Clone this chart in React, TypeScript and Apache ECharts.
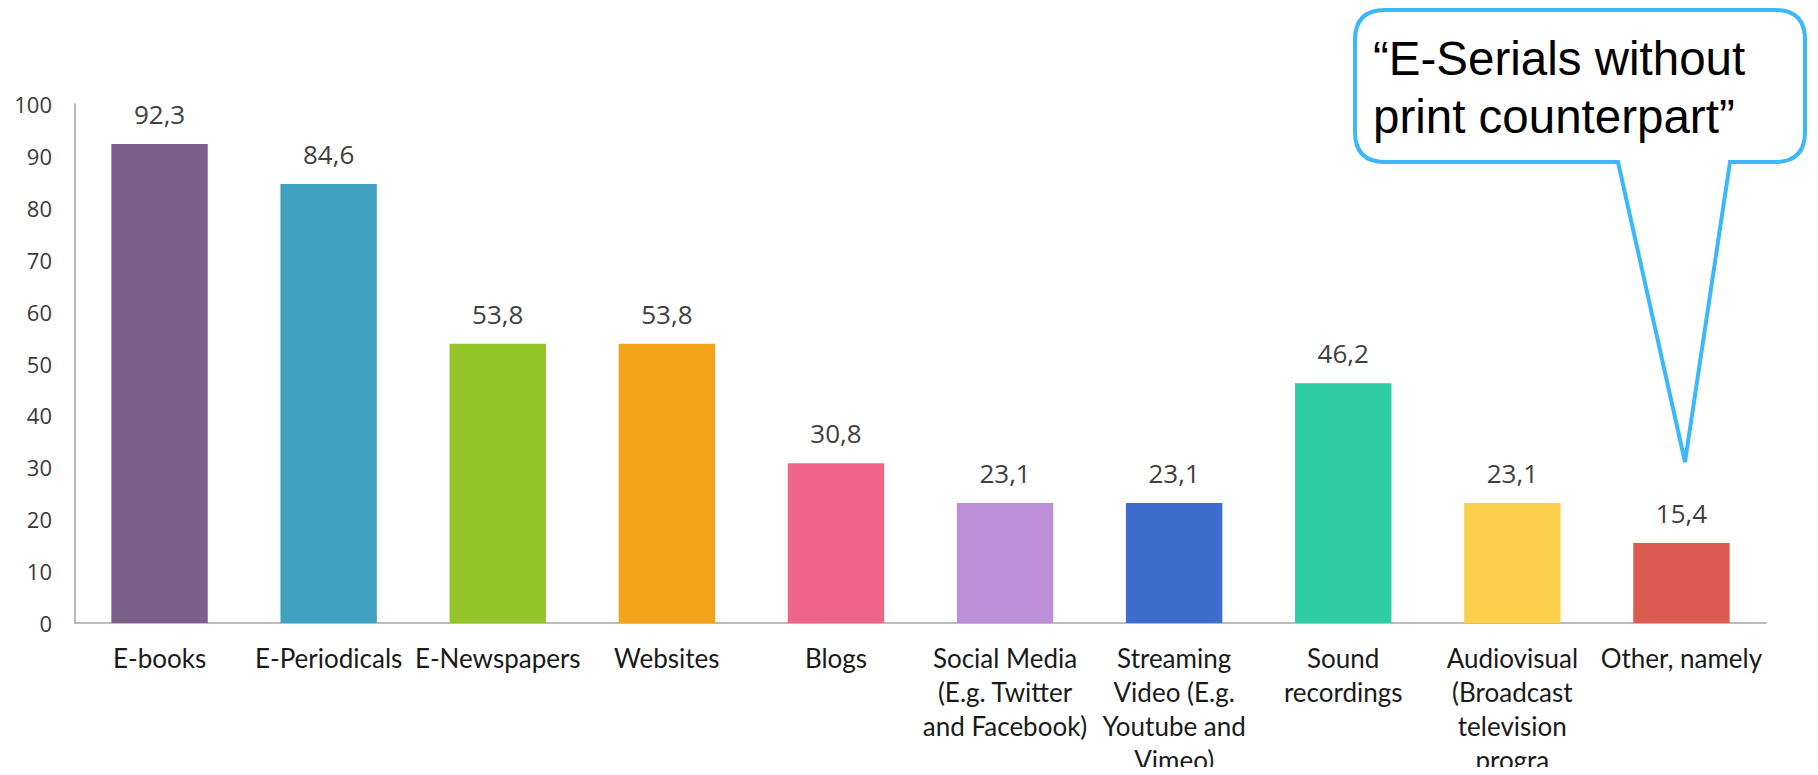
import React, { useEffect, useRef } from "react";
import * as echarts from "echarts";

const categories = [
  "E-books",
  "E-Periodicals",
  "E-Newspapers",
  "Websites",
  "Blogs",
  "Social Media\n(E.g. Twitter\nand Facebook)",
  "Streaming\nVideo (E.g.\nYoutube and\nVimeo)",
  "Sound\nrecordings",
  "Audiovisual\n(Broadcast\ntelevision\nprogra",
  "Other, namely",
];
const values = [92.3, 84.6, 53.8, 53.8, 30.8, 23.1, 23.1, 46.2, 23.1, 15.4];
const barColors = [
  "#7B5F8D",
  "#40A1C1",
  "#93C529",
  "#F4A41A",
  "#EF6587",
  "#BE8FD9",
  "#3D6DCC",
  "#2ECDA5",
  "#FCD04B",
  "#DC5B51",
];
const calloutLines = ["\u201CE-Serials without", "print counterpart\u201D"];

const calloutPath =
  "M1385 10 H1775 Q1805 10 1805 40 V132 Q1805 162 1775 162 H1730 L1685 462 L1618 162 H1385 Q1355 162 1355 132 V40 Q1355 10 1385 10 Z";

echarts.graphic.registerShape("callout", echarts.graphic.extendPath(calloutPath, {}));

export default function App() {
  const ref = useRef<HTMLDivElement>(null);
  useEffect(() => {
    if (!ref.current) return;
    const chart = echarts.init(ref.current, null, { renderer: "svg" });
    chart.setOption({
      animation: false,
      backgroundColor: "#ffffff",
      grid: {
        left: 75,
        right: 52,
        top: 104,
        bottom: 152,
        containLabel: false,
        outerBoundsMode: "none",
      },
      xAxis: {
        type: "category",
        data: categories,
        axisLine: { show: true, lineStyle: { color: "#A6A6A6", width: 1.5 } },
        axisTick: { show: false },
        axisLabel: {
          interval: 0,
          margin: 18,
          color: "#1a1a1a",
          fontFamily: "Lato, Open Sans, sans-serif",
          fontSize: 26,
          lineHeight: 34,
        },
      },
      yAxis: {
        type: "value",
        min: 0,
        max: 100,
        interval: 10,
        splitLine: { show: false },
        axisLine: { show: true, lineStyle: { color: "#A6A6A6", width: 1.5 } },
        axisTick: { show: false },
        axisLabel: {
          margin: 23,
          color: "#3a3a3a",
          fontFamily: "Open Sans, sans-serif",
          fontSize: 22,
        },
      },
      series: [
        {
          type: "bar",
          data: values.map((v, i) => ({ value: v, itemStyle: { color: barColors[i] } })),
          barCategoryGap: "43%",
          label: {
            show: true,
            position: "top",
            distance: 17,
            color: "#404040",
            fontFamily: "Open Sans, sans-serif",
            fontSize: 26,
            formatter: (p: any) => String(p.value).replace(".", ","),
          },
        },
      ],
      graphic: [
        {
          type: "callout",
          x: 0,
          y: 0,
          z: 10,
          style: { fill: "#ffffff", stroke: "#3AB8FB", lineWidth: 4 },
        },
        {
          type: "text",
          x: 1373,
          y: 58,
          z: 11,
          style: {
            text: calloutLines[0],
            fill: "#000000",
            fontFamily: "Liberation Sans, Arial, sans-serif",
            fontSize: 47.5,
            align: "left",
            verticalAlign: "middle",
          },
        },
        {
          type: "text",
          x: 1373,
          y: 116,
          z: 11,
          style: {
            text: calloutLines[1],
            fill: "#000000",
            fontFamily: "Liberation Sans, Arial, sans-serif",
            fontSize: 47.5,
            align: "left",
            verticalAlign: "middle",
          },
        },
      ],
    });
    return () => chart.dispose();
  }, []);
  return <div ref={ref} style={{ width: 1818, height: 775, margin: -8 }} />;
}
